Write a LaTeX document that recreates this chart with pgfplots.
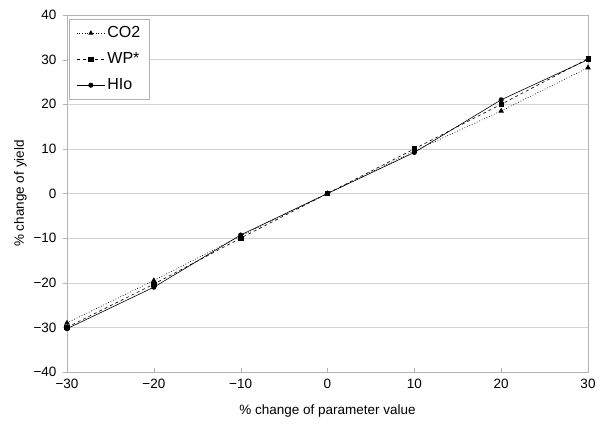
\documentclass[border=0pt]{standalone}
\usepackage{pgfplots}
\pgfplotsset{compat=1.18}
\usepackage{fontspec}
\setmainfont{Liberation Sans}
\begin{document}
\begin{tikzpicture}
\begin{axis}[
  width=521pt, height=357pt, scale only axis,
  xmin=-30, xmax=30, ymin=-40, ymax=40,
  xtick={-30,-20,...,30}, ytick={-40,-30,...,40},
  xticklabels={−30,−20,−10,0,10,20,30},
  yticklabels={−40,−30,−20,−10,0,10,20,30,40},
  axis line style={gray!60},
  ymajorgrids, grid style={gray!35},
  xtick style={gray!60}, ytick style={gray!60},
  xtick align=inside, ytick align=outside,
  xtick pos=bottom, ytick pos=left,
  major tick length=4pt,
  tick label style={font=\fontsize{13.5}{15}\selectfont},
  yticklabel style={xshift=-3pt},
  xticklabel style={yshift=-4pt},
  label style={font=\fontsize{13.5}{15}\selectfont},
  xlabel={\% change of parameter value},
  ylabel={\% change of yield},
  xlabel style={yshift=-9pt},
  ylabel style={yshift=0pt},
  legend style={at={(0.004,0.99)}, anchor=north west, draw=gray!60, font=\fontsize{16}{18}\selectfont, row sep=9.5pt, inner xsep=7pt, inner ysep=6pt},
  legend image code/.code={\draw[mark repeat=2,mark phase=2,#1,mark size=2.2pt] plot coordinates {(0cm,0cm) (0.5cm,0cm) (1cm,0cm)};},
  legend cell align=left,
]
\addplot[black, line width=0.7pt, dotted, mark=triangle*, mark size=2.5pt, mark options={solid}] coordinates {(-30,-29) (-20,-19.5) (-10,-9.5) (0,0) (10,9.5) (20,18.5) (30,28.2)};
\addlegendentry{CO2}
\addplot[black, line width=0.6pt, dashed, mark=square*, mark size=2.2pt, mark options={solid}] coordinates {(-30,-30) (-20,-20.3) (-10,-10) (0,0) (10,10) (20,20) (30,30.2)};
\addlegendentry{WP*}
\addplot[black, line width=0.6pt, solid, mark=*, mark size=2.2pt] coordinates {(-30,-30.3) (-20,-21) (-10,-9.3) (0,0) (10,9.2) (20,21) (30,30)};
\addlegendentry{HIo}
\end{axis}
\useasboundingbox ([shift={(-67pt,-58pt)}]current axis.south west) rectangle ([shift={(17pt,15pt)}]current axis.north east);
\end{tikzpicture}
\end{document}
